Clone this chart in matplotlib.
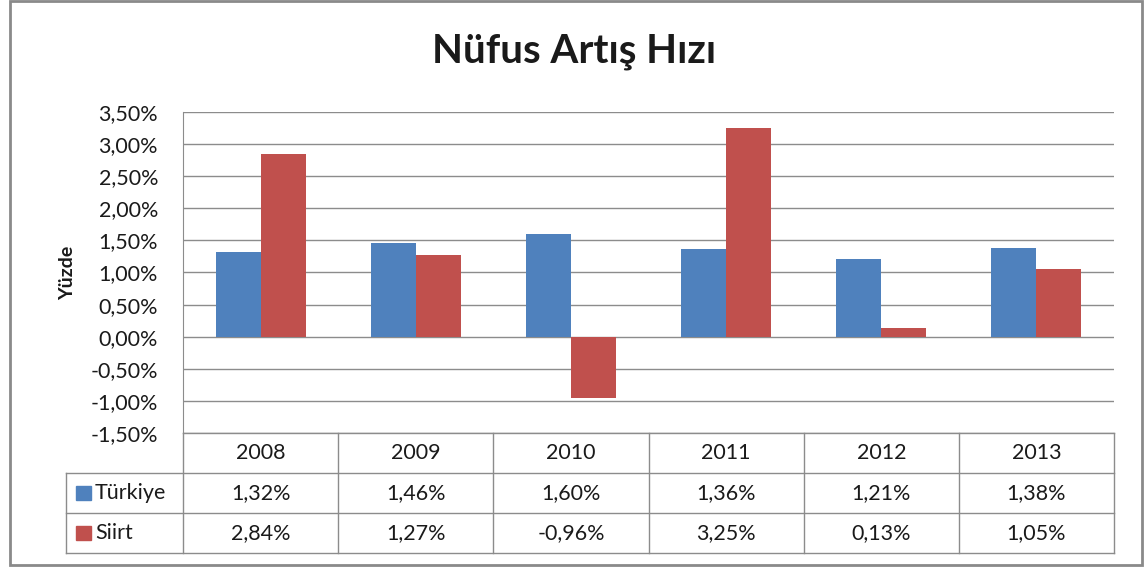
import numpy as np
import matplotlib.pyplot as plt
from matplotlib.lines import Line2D
from matplotlib.patches import Rectangle
from matplotlib.ticker import FuncFormatter, MultipleLocator

# data
years = ["2008", "2009", "2010", "2011", "2012", "2013"]
turkiye = [1.32, 1.46, 1.60, 1.36, 1.21, 1.38]
siirt = [2.84, 1.27, -0.96, 3.25, 0.13, 1.05]
series_names = ["Türkiye", "Siirt"]

BLUE = "#4F81BD"
RED = "#C0504D"
GRID = "#8C8C8C"
INK = "#1A1A1A"
FS = 15.5

W, H = 1148, 569
plt.rcParams["font.family"] = ["Lato", "DejaVu Sans"]

fig = plt.figure(figsize=(W / 100, H / 100), dpi=100)


def fx(px):
    return px / W


def fy(py):
    return 1 - py / H


def fline(x0, y0, x1, y1, color=GRID, lw=1.0):
    fig.add_artist(Line2D([fx(x0), fx(x1)], [fy(y0), fy(y1)],
                          transform=fig.transFigure, color=color, lw=lw))


# outer chart frame
fig.add_artist(Rectangle((fx(10), fy(565)), fx(1142) - fx(10), fy(1) - fy(565),
                         transform=fig.transFigure, fill=False,
                         edgecolor="#8A8A8A", lw=2.0))

# plot area
L, R, T, B = 183, 1114, 112, 433
ax = fig.add_axes([fx(L), fy(B), fx(R) - fx(L), fy(T) - fy(B)])

x = np.arange(len(years))
bw = 0.29
ax.bar(x - bw / 2, turkiye, width=bw, color=BLUE, zorder=3)
ax.bar(x + bw / 2, siirt, width=bw, color=RED, zorder=3)

ax.set_xlim(-0.5, len(years) - 0.5)
ax.set_ylim(-1.5, 3.5)
ax.yaxis.set_major_locator(MultipleLocator(0.5))
ax.yaxis.set_major_formatter(
    FuncFormatter(lambda v, _: f"{v:.2f}%".replace(".", ",")))
ax.grid(axis="y", color=GRID, lw=1.0, zorder=0)
ax.set_xticks([])
ax.tick_params(axis="y", length=0, pad=18, labelsize=FS, labelcolor=INK)
for s in ("top", "right", "bottom"):
    ax.spines[s].set_visible(False)
ax.spines["left"].set_color(GRID)

ax.set_ylabel("Yüzde", fontsize=14, fontweight="bold", color=INK, labelpad=10)

fig.text(0.5, fy(52), "Nüfus Artış Hızı", ha="center", va="center",
         fontsize=29, fontweight="bold", color=INK)

# data table
row_y = [433, 473, 513, 553]
col_w = (R - L) / len(years)
fline(L, row_y[0], R, row_y[0])
for yy in row_y[1:]:
    fline(66, yy, R, yy)
fline(66, row_y[1], 66, row_y[3])
for k in range(len(years) + 1):
    fline(L + k * col_w, row_y[0], L + k * col_w, row_y[3])

for k, yr in enumerate(years):
    cx = L + (k + 0.5) * col_w
    fig.text(fx(cx), fy(453), yr, ha="center", va="center", fontsize=FS, color=INK)
    fig.text(fx(cx), fy(493), f"{turkiye[k]:.2f}%".replace(".", ","),
             ha="center", va="center", fontsize=FS, color=INK)
    fig.text(fx(cx), fy(533), f"{siirt[k]:.2f}%".replace(".", ","),
             ha="center", va="center", fontsize=FS, color=INK)

for name, col, cy in zip(series_names, [BLUE, RED], [493, 533]):
    fig.add_artist(Rectangle((fx(76), fy(cy + 7)), fx(15), fy(0) - fy(14),
                             transform=fig.transFigure, color=col))
    fig.text(fx(95), fy(cy), name, ha="left", va="center", fontsize=FS, color=INK)

fig.savefig("out.png", dpi=100)
